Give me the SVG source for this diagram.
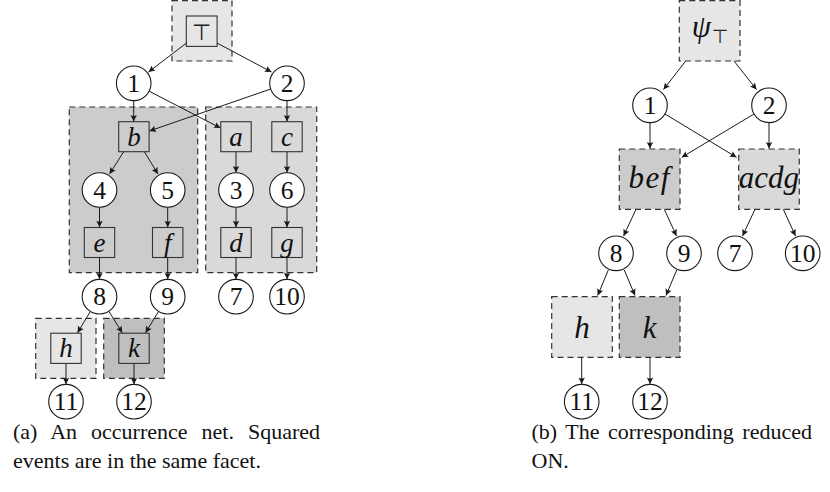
<svg xmlns="http://www.w3.org/2000/svg" width="830" height="492" viewBox="0 0 830 492">
<style>
  .facet { stroke:#333; stroke-width:1.2; stroke-dasharray:6 4; }
  .f1 { fill:#e6e6e6; }
  .f2 { fill:#cccccc; }
  .f3 { fill:#d9d9d9; }
  .f4 { fill:#bfbfbf; }
  .ev { fill:none; stroke:#333; stroke-width:1.1; }
  .pl { fill:#fff; stroke:#1a1a1a; stroke-width:1.1; }
  .num { font-family:"Liberation Serif", "Times New Roman", serif; font-size:25.5px; fill:#111; text-anchor:middle; }
  .lab { font-family:"Liberation Serif", "Times New Roman", serif; font-style:italic; font-size:27px; fill:#111; text-anchor:middle; }
  .labL { font-family:"Liberation Serif", "Times New Roman", serif; font-style:italic; font-size:31px; fill:#111; text-anchor:middle; }
  .top { font-family:"DejaVu Sans", sans-serif; fill:#222; text-anchor:middle; }
  .cap { font-family:"Liberation Serif", "Times New Roman", serif; font-size:22px; fill:#111; }
  .arr line { stroke:#1a1a1a; stroke-width:1; marker-end:url(#ah); }
</style>
<defs>
  <marker id="ah" viewBox="-8 -4 9 8" refX="0" refY="0" markerWidth="9" markerHeight="8" orient="auto" markerUnits="userSpaceOnUse">
    <path d="M0,0 L-6.5,-3.2 Q-4.6,0 -6.5,3.2 Z" fill="#1a1a1a"/>
  </marker>
</defs>
<rect width="830" height="492" fill="#fff"/>

<!-- ===== (a) occurrence net ===== -->
<g id="facet-top-a"><rect class="facet f1" x="172" y="0.6" width="60" height="60.4"/></g>
<g id="facet-bef-a"><rect class="facet f2" x="69.3" y="107" width="128.4" height="165.7"/></g>
<g id="facet-acdg-a"><rect class="facet f3" x="205.7" y="107" width="111" height="165.7"/></g>
<g id="facet-h-a"><rect class="facet f1" x="35.7" y="318.3" width="60.3" height="60"/></g>
<g id="facet-k-a"><rect class="facet f4" x="103.7" y="318.3" width="60.6" height="60"/></g>

<g id="ev-top-a"><rect class="ev" x="186.3" y="16" width="30.8" height="30.4"/><text class="top" x="201.7" y="39.5" font-size="22">⊤</text></g>
<g id="pl1-a"><circle class="pl" cx="133.7" cy="83.3" r="17.3"/><text class="num" x="133.7" y="92">1</text></g>
<g id="pl2-a"><circle class="pl" cx="287" cy="83.3" r="17.3"/><text class="num" x="287" y="92">2</text></g>

<g id="ev-b"><rect class="ev" x="118.7" y="121.7" width="30.4" height="30"/><text class="lab" x="133.9" y="145.8">b</text></g>
<g id="ev-a"><rect class="ev" x="220.8" y="121.7" width="30.4" height="30"/><text class="lab" x="236" y="145.8">a</text></g>
<g id="ev-c"><rect class="ev" x="271.8" y="121.7" width="30.4" height="30"/><text class="lab" x="287" y="145.8">c</text></g>

<g id="pl4"><circle class="pl" cx="99.5" cy="190" r="17.3"/><text class="num" x="99.5" y="198.7">4</text></g>
<g id="pl5"><circle class="pl" cx="167.7" cy="190" r="17.3"/><text class="num" x="167.7" y="198.7">5</text></g>
<g id="pl3"><circle class="pl" cx="236" cy="190" r="17.3"/><text class="num" x="236" y="198.7">3</text></g>
<g id="pl6"><circle class="pl" cx="287" cy="190" r="17.3"/><text class="num" x="287" y="198.7">6</text></g>

<g id="ev-e"><rect class="ev" x="84.3" y="227.5" width="30.4" height="30"/><text class="lab" x="99.5" y="251.6">e</text></g>
<g id="ev-f"><rect class="ev" x="152.5" y="227.5" width="30.4" height="30"/><text class="lab" x="167.7" y="251.6">f</text></g>
<g id="ev-d"><rect class="ev" x="220.8" y="227.5" width="30.4" height="30"/><text class="lab" x="236" y="251.6">d</text></g>
<g id="ev-g"><rect class="ev" x="271.8" y="227.5" width="30.4" height="30"/><text class="lab" x="287" y="251.6">g</text></g>

<g id="pl8-a"><circle class="pl" cx="99.5" cy="296.7" r="17.3"/><text class="num" x="99.5" y="305.4">8</text></g>
<g id="pl9-a"><circle class="pl" cx="167.7" cy="296.7" r="17.3"/><text class="num" x="167.7" y="305.4">9</text></g>
<g id="pl7-a"><circle class="pl" cx="236" cy="296.7" r="17.3"/><text class="num" x="236" y="305.4">7</text></g>
<g id="pl10-a"><circle class="pl" cx="287" cy="296.7" r="17.3"/><text class="num" x="287" y="305.4">10</text></g>

<g id="ev-h-a"><rect class="ev" x="50.8" y="333.2" width="30.4" height="30.2"/><text class="lab" x="66" y="357">h</text></g>
<g id="ev-k-a"><rect class="ev" x="118.8" y="333.2" width="30.4" height="30.2"/><text class="lab" x="134" y="357">k</text></g>

<g id="pl11-a"><circle class="pl" cx="66" cy="401.7" r="17.3"/><text class="num" x="66" y="410.4">11</text></g>
<g id="pl12-a"><circle class="pl" cx="134" cy="401.7" r="17.3"/><text class="num" x="134" y="410.4">12</text></g>

<g id="connectors-a" class="arr">
  <line x1="186.5" y1="43" x2="148.5" y2="72"/>
  <line x1="217" y1="43" x2="271.5" y2="72"/>
  <line x1="133.7" y1="100.6" x2="133.7" y2="121.5"/>
  <line x1="287" y1="100.6" x2="287" y2="121.5"/>
  <line x1="149.1" y1="91.2" x2="220.5" y2="128"/>
  <line x1="270.7" y1="89" x2="149.4" y2="131"/>
  <line x1="123.5" y1="152" x2="109.5" y2="174"/>
  <line x1="144.5" y1="152" x2="158" y2="174"/>
  <line x1="236" y1="152" x2="236" y2="172.5"/>
  <line x1="287" y1="152" x2="287" y2="172.5"/>
  <line x1="99.5" y1="207.3" x2="99.5" y2="227.3"/>
  <line x1="167.7" y1="207.3" x2="167.7" y2="227.3"/>
  <line x1="236" y1="207.3" x2="236" y2="227.3"/>
  <line x1="287" y1="207.3" x2="287" y2="227.3"/>
  <line x1="99.5" y1="257.7" x2="99.5" y2="279.2"/>
  <line x1="167.7" y1="257.7" x2="167.7" y2="279.2"/>
  <line x1="236" y1="257.7" x2="236" y2="279.2"/>
  <line x1="287" y1="257.7" x2="287" y2="279.2"/>
  <line x1="90.4" y1="311.4" x2="77.5" y2="332.8"/>
  <line x1="108.8" y1="311.3" x2="122.3" y2="332.8"/>
  <line x1="158.6" y1="311.4" x2="145.5" y2="332.8"/>
  <line x1="66" y1="363.6" x2="66" y2="384.2"/>
  <line x1="134" y1="363.6" x2="134" y2="384.2"/>
</g>

<text class="cap" x="13" y="439" word-spacing="8.5">(a) An occurrence net. Squared</text>
<text class="cap" x="13" y="468">events are in the same facet.</text>

<!-- ===== (b) reduced ON ===== -->
<g id="node-psi"><rect class="facet f1" x="679.3" y="0.6" width="60.7" height="60.4"/>
  <text x="701.5" y="37" class="labL" font-size="33">ψ</text><text x="720" y="43" class="top" font-size="19">⊤</text></g>
<g id="pl1-b"><circle class="pl" cx="650" cy="105.3" r="17.3"/><text class="num" x="650" y="114">1</text></g>
<g id="pl2-b"><circle class="pl" cx="769" cy="105.3" r="17.3"/><text class="num" x="769" y="114">2</text></g>
<g id="node-bef"><rect class="facet f2" x="619.3" y="149" width="60.7" height="60.3"/><text class="labL" x="649.7" y="188" letter-spacing="1.5">bef</text></g>
<g id="node-acdg"><rect class="facet f3" x="738.7" y="149" width="60.6" height="60.3"/><text class="labL" x="769" y="188">acdg</text></g>
<g id="pl8-b"><circle class="pl" cx="616" cy="253.3" r="17.3"/><text class="num" x="616" y="262">8</text></g>
<g id="pl9-b"><circle class="pl" cx="684" cy="253.3" r="17.3"/><text class="num" x="684" y="262">9</text></g>
<g id="pl7-b"><circle class="pl" cx="735" cy="253.3" r="17.3"/><text class="num" x="735" y="262">7</text></g>
<g id="pl10-b"><circle class="pl" cx="802.7" cy="253.3" r="17.3"/><text class="num" x="802.7" y="262">10</text></g>
<g id="node-h"><rect class="facet f1" x="551.7" y="296.7" width="60.6" height="60.6"/><text class="labL" x="582" y="338" font-size="30">h</text></g>
<g id="node-k"><rect class="facet f4" x="619.3" y="296.7" width="60.7" height="60.6"/><text class="labL" x="649.7" y="338" font-size="30">k</text></g>
<g id="pl11-b"><circle class="pl" cx="581.7" cy="401.7" r="17.3"/><text class="num" x="581.7" y="410.4">11</text></g>
<g id="pl12-b"><circle class="pl" cx="650" cy="401.7" r="17.3"/><text class="num" x="650" y="410.4">12</text></g>

<g id="connectors-b" class="arr">
  <line x1="685.7" y1="61" x2="663.5" y2="89.5"/>
  <line x1="734" y1="61" x2="756.5" y2="89.5"/>
  <line x1="650" y1="122.6" x2="650" y2="148.5"/>
  <line x1="769" y1="122.6" x2="769" y2="148.5"/>
  <line x1="665" y1="114" x2="736.5" y2="157.3"/>
  <line x1="754" y1="114" x2="681.7" y2="157.3"/>
  <line x1="636" y1="209.3" x2="623.6" y2="236"/>
  <line x1="664.3" y1="209.3" x2="676.5" y2="236"/>
  <line x1="755" y1="209.3" x2="742.5" y2="236"/>
  <line x1="783.3" y1="209.3" x2="795.5" y2="236"/>
  <line x1="608.3" y1="270" x2="597.7" y2="295.5"/>
  <line x1="624.3" y1="270" x2="635" y2="295.5"/>
  <line x1="676.7" y1="270" x2="666" y2="295.5"/>
  <line x1="581.7" y1="357.5" x2="581.7" y2="384"/>
  <line x1="650" y1="357.5" x2="650" y2="384"/>
</g>

<text class="cap" x="531.5" y="439" word-spacing="3">(b) The corresponding reduced</text>
<text class="cap" x="531.5" y="468">ON.</text>
</svg>
